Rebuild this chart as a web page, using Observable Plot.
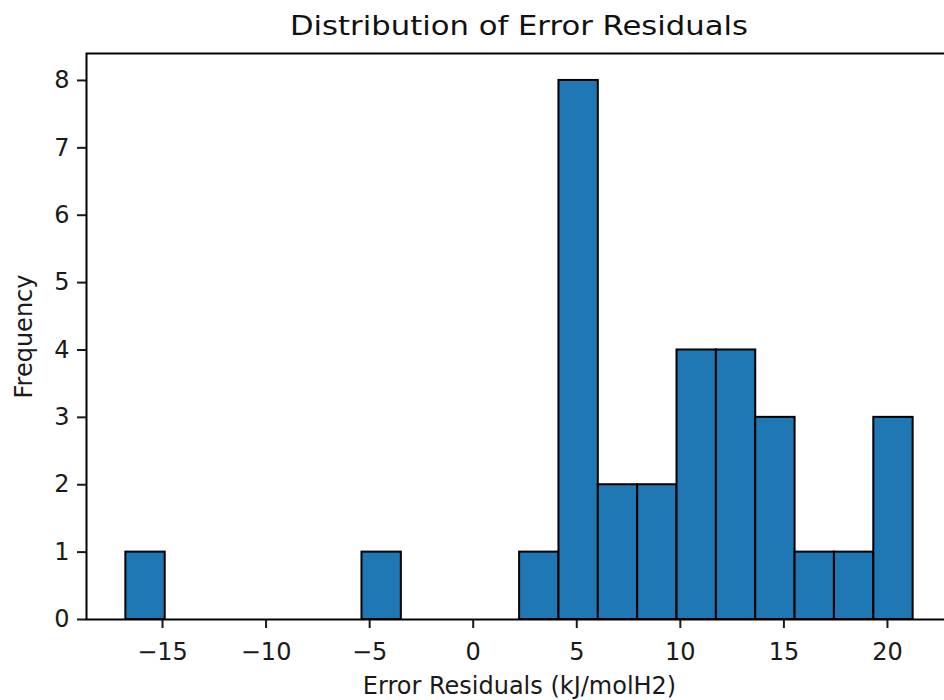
<!DOCTYPE html>
<html>
<head>
<meta charset="utf-8">
<script src="https://cdn.jsdelivr.net/npm/d3@7"></script>
<script src="https://cdn.jsdelivr.net/npm/@observablehq/plot@0.6"></script>
<style>
  html, body { margin: 0; padding: 0; background: #fff; }
  #wrap { width: 944px; height: 700px; overflow: hidden; position: relative; }
  #title { position: relative; height: 45px; width: 944px; font-family: "DejaVu Sans", sans-serif; }
  #title span { position: absolute; left: 519px; top: 13px; font-size: 26px; line-height: 1; color: #111;
    white-space: nowrap; transform: translateX(-50%) scaleX(1.18); transform-origin: center; }
  #chart svg { display: block; }
</style>
</head>
<body>
<div id="wrap">
  <div id="title"><span>Distribution of Error Residuals</span></div>
  <div id="chart"></div>
</div>
<script>
// Histogram bin edges (20 equal bins)
const binEdges = [-16.77, -14.87, -12.97, -11.07, -9.17, -7.27, -5.37, -3.47, -1.56, 0.34,
                  2.24, 4.14, 6.04, 7.94, 9.84, 11.74, 13.64, 15.54, 17.44, 19.34, 21.24];
// Frequency per bin
const counts = [1, 0, 0, 0, 0, 0, 1, 0, 0, 0, 1, 8, 2, 2, 4, 4, 3, 1, 1, 3];
const xTicks = [-15, -10, -5, 0, 5, 10, 15, 20];
const yTicks = [0, 1, 2, 3, 4, 5, 6, 7, 8];
const xLabel = "Error Residuals (kJ/molH2)";
const yLabel = "Frequency";

const bins = counts.map((c, i) => ({x1: binEdges[i], x2: binEdges[i + 1], count: c}))
                   .filter(d => d.count > 0);

const chart = Plot.plot({
  width: 944,
  height: 655,
  marginLeft: 86,
  marginRight: -8,
  marginTop: 8,
  marginBottom: 81,
  style: {fontFamily: "DejaVu Sans", fontSize: "24px", background: "white", color: "#1a1a1a", overflow: "hidden"},
  x: {domain: [-18.67, 23.14]},
  y: {domain: [0, 8.4]},
  marks: [
    Plot.rectY(bins, {x1: "x1", x2: "x2", y: "count", fill: "#1f77b4", stroke: "#000", strokeWidth: 2}),
    Plot.axisX(xTicks, {tickSize: 9, tickPadding: 14, fontSize: 24, strokeWidth: 2, label: null, tickFormat: d3.format("d")}),
    Plot.axisY(yTicks, {tickSize: 9, tickPadding: 8, fontSize: 24, strokeWidth: 2, label: null, tickFormat: d3.format("d")}),
    Plot.text([xLabel], {text: d => d, frameAnchor: "bottom", textAnchor: "middle", dy: 74, lineAnchor: "bottom", fontSize: 24, fill: "#1a1a1a"}),
    Plot.text([yLabel], {text: d => d, frameAnchor: "left", textAnchor: "middle", dx: -55, rotate: -90, lineAnchor: "bottom", fontSize: 24, fill: "#1a1a1a"}),
    Plot.frame({stroke: "#000", strokeWidth: 2})
  ]
});
document.getElementById("chart").appendChild(chart);
</script>
</body>
</html>
